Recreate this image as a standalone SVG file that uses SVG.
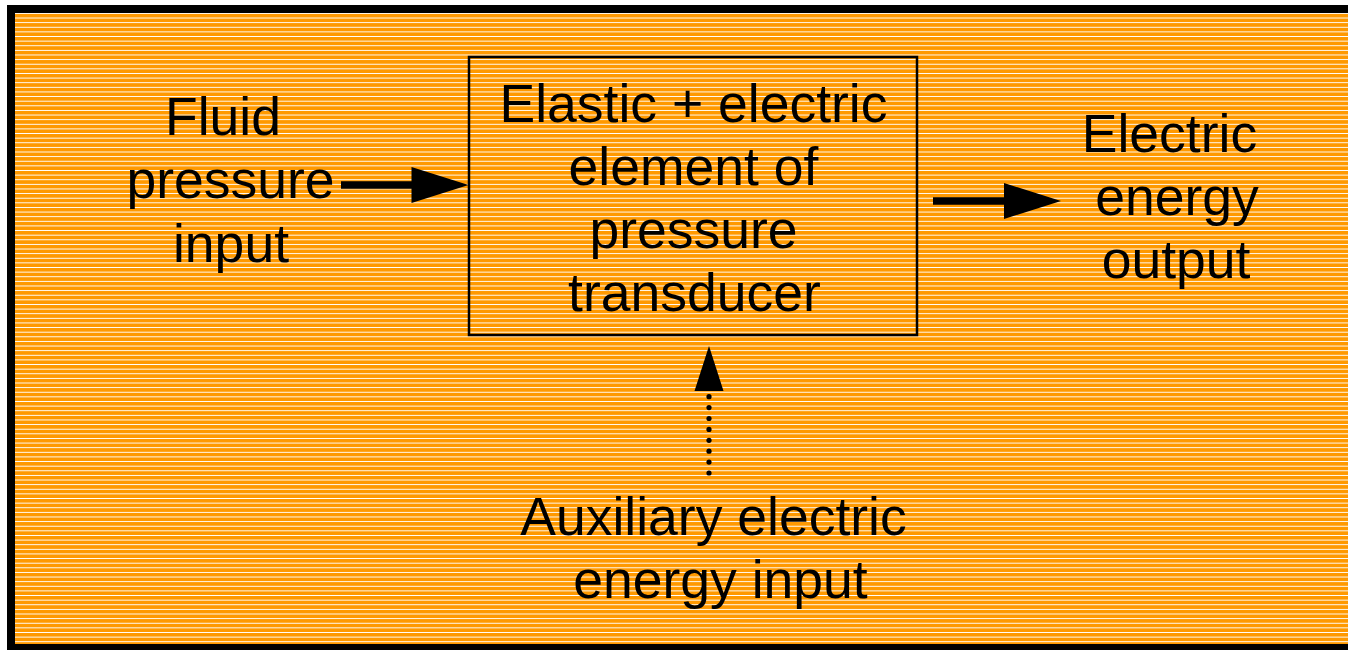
<svg xmlns="http://www.w3.org/2000/svg" width="1348" height="650" viewBox="0 0 1348 650">
<style>
text{font-family:"Liberation Sans",Arial,sans-serif;font-size:53.5px;fill:#000;text-anchor:middle}
.box{fill:none;stroke:#000;stroke-width:2.5}
.shaft{stroke:#000;stroke-width:7.5;fill:none}
.head{fill:#000}
</style>
<defs>
<pattern id="stripes" patternUnits="userSpaceOnUse" x="0" y="0" width="20" height="4.62">
<rect x="0" y="0" width="20" height="4.62" fill="#FF9900" shape-rendering="crispEdges"/>
<rect x="0" y="3.6" width="20" height="1.02" fill="#FFFFFF" shape-rendering="crispEdges"/>
</pattern>
</defs>
<rect x="0" y="0" width="1348" height="650" fill="#FFFFFF"/>
<rect x="7" y="5" width="1341" height="645" fill="#000"/>
<rect x="15" y="13" width="1333" height="631" fill="url(#stripes)"/>
<g id="node-fluid">
<text x="223" y="135">Fluid</text>
<text x="230.5" y="198.3">pressure</text>
<text x="231" y="261.7">input</text>
</g>
<g id="node-transducer">
<rect class="box" x="469" y="57" width="448" height="278"/>
<text x="693.5" y="121.5">Elastic + electric</text>
<text x="693.5" y="184.8">element of</text>
<text x="693.5" y="248">pressure</text>
<text x="694.5" y="311.3">transducer</text>
</g>
<g id="node-output">
<text x="1169.5" y="151.5">Electric</text>
<text x="1177" y="214.8">energy</text>
<text x="1176" y="278">output</text>
</g>
<g id="node-auxiliary">
<text x="713.5" y="535">Auxiliary electric</text>
<text x="720.5" y="598.3">energy input</text>
</g>
<g id="connectors">
<line class="shaft" x1="341" y1="185" x2="414" y2="185"/>
<polygon class="head" points="411.5,167 468.5,185 411.5,203"/>
<line class="shaft" x1="933" y1="201" x2="1006" y2="201"/>
<polygon class="head" points="1004,183 1061,201 1004,219"/>
<polygon class="head" points="709,346 723.5,391 694.5,391"/>
<g fill="#000">
<circle cx="709" cy="396.7" r="2.6"/>
<circle cx="709" cy="407.6" r="2.6"/>
<circle cx="709" cy="418.5" r="2.6"/>
<circle cx="709" cy="429.4" r="2.6"/>
<circle cx="709" cy="440.3" r="2.6"/>
<circle cx="709" cy="451.2" r="2.6"/>
<circle cx="709" cy="462.1" r="2.6"/>
<circle cx="709" cy="473" r="2.6"/>
</g>
</g>
</svg>
